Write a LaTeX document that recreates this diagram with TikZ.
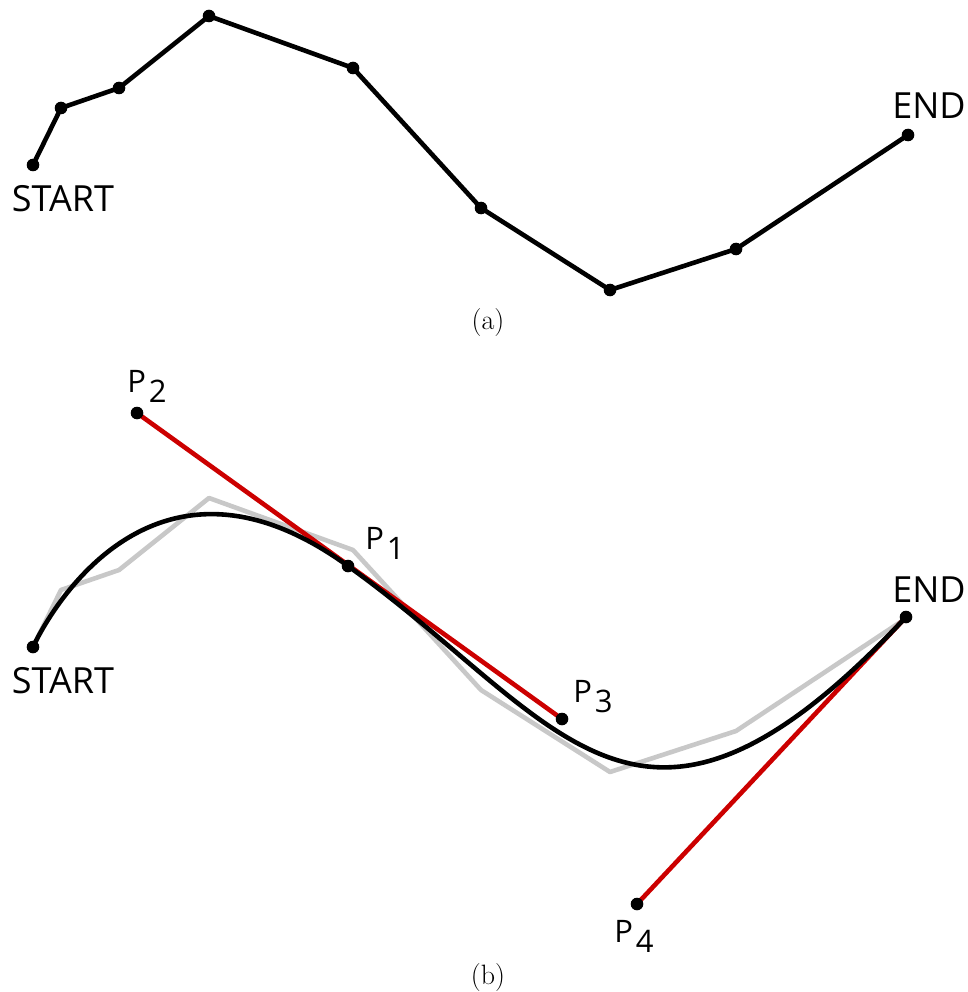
\documentclass[tikz,border=0pt]{standalone}
\usepackage{fontspec}
\newfontfamily\labelfont{Open Sans}
\usetikzlibrary{calc, positioning}

\definecolor{handlered}{RGB}{204,0,0}
\definecolor{pathgray}{RGB}{200,200,200}

\newcommand{\sublbl}[2]{#1\kern3pt\raisebox{-0.32em}{#2}}

\begin{document}
\begin{tikzpicture}[x=1pt, y=-1pt,
  line width=4.6pt, line join=round,
  lbl/.style={font=\labelfont\fontsize{36}{36}\selectfont, inner sep=0pt},
  plbl/.style={font=\labelfont\fontsize{31}{31}\selectfont, inner sep=0pt},
  captionlbl/.style={font=\fontsize{28}{28}\selectfont, inner sep=0pt}]
\useasboundingbox (0,0) rectangle (967,992);
\def\R{6.3}

% (a) polyline
\foreach \k/\x/\y in {1/33/165,2/61/108,3/119/88,4/209/16,5/353/68,6/481/208,7/610/290,8/736/249,9/908/135}{
  \coordinate (A\k) at (\x,\y);
  \coordinate (B\k) at ($(\x,\y)+(0,482)$);
}

\draw (A1) -- (A2) -- (A3) -- (A4) -- (A5) -- (A6) -- (A7) -- (A8) -- (A9);
\foreach \k in {1,...,9}{
  \fill (A\k) circle[radius=\R];
}
\node[lbl] (startA) at (63,199) {START};
\node[lbl] (endA) at (929,106) {END};
\node[captionlbl] (capA) at (488,323) {(a)};

% (b) handles and smooth curve
\coordinate (S) at (33,647);
\coordinate (E) at (906,617);
\coordinate (P1) at (348,566);
\coordinate (P2) at (137,413);
\coordinate (P3) at (562,719);
\coordinate (P4) at (637,904);

\draw[pathgray] (B1) -- (B2) -- (B3) -- (B4) -- (B5) -- (B6) -- (B7) -- (B8) -- (B9);
\draw[handlered] (P2) -- (P3);
\draw[handlered] (E) -- (P4);
\draw (S) .. controls (S) and (P2) .. (P1) .. controls (P3) and (P4) .. (E);

\foreach \Q in {S,E,P1,P2,P3,P4}{
  \fill (\Q) circle[radius=\R];
}
\node[lbl] (startB) at (63,681) {START};
\node[lbl] (endB) at (929,590) {END};
\node[plbl] (lblP2) at (147,386) {\sublbl{P}{2}};
\node[plbl] (lblP1) at (385,543) {\sublbl{P}{1}};
\node[plbl] (lblP3) at (593,697) {\sublbl{P}{3}};
\node[plbl] (lblP4) at (634,936) {\sublbl{P}{4}};
\node[captionlbl] (capB) at (488,978) {(b)};
\end{tikzpicture}
\end{document}
